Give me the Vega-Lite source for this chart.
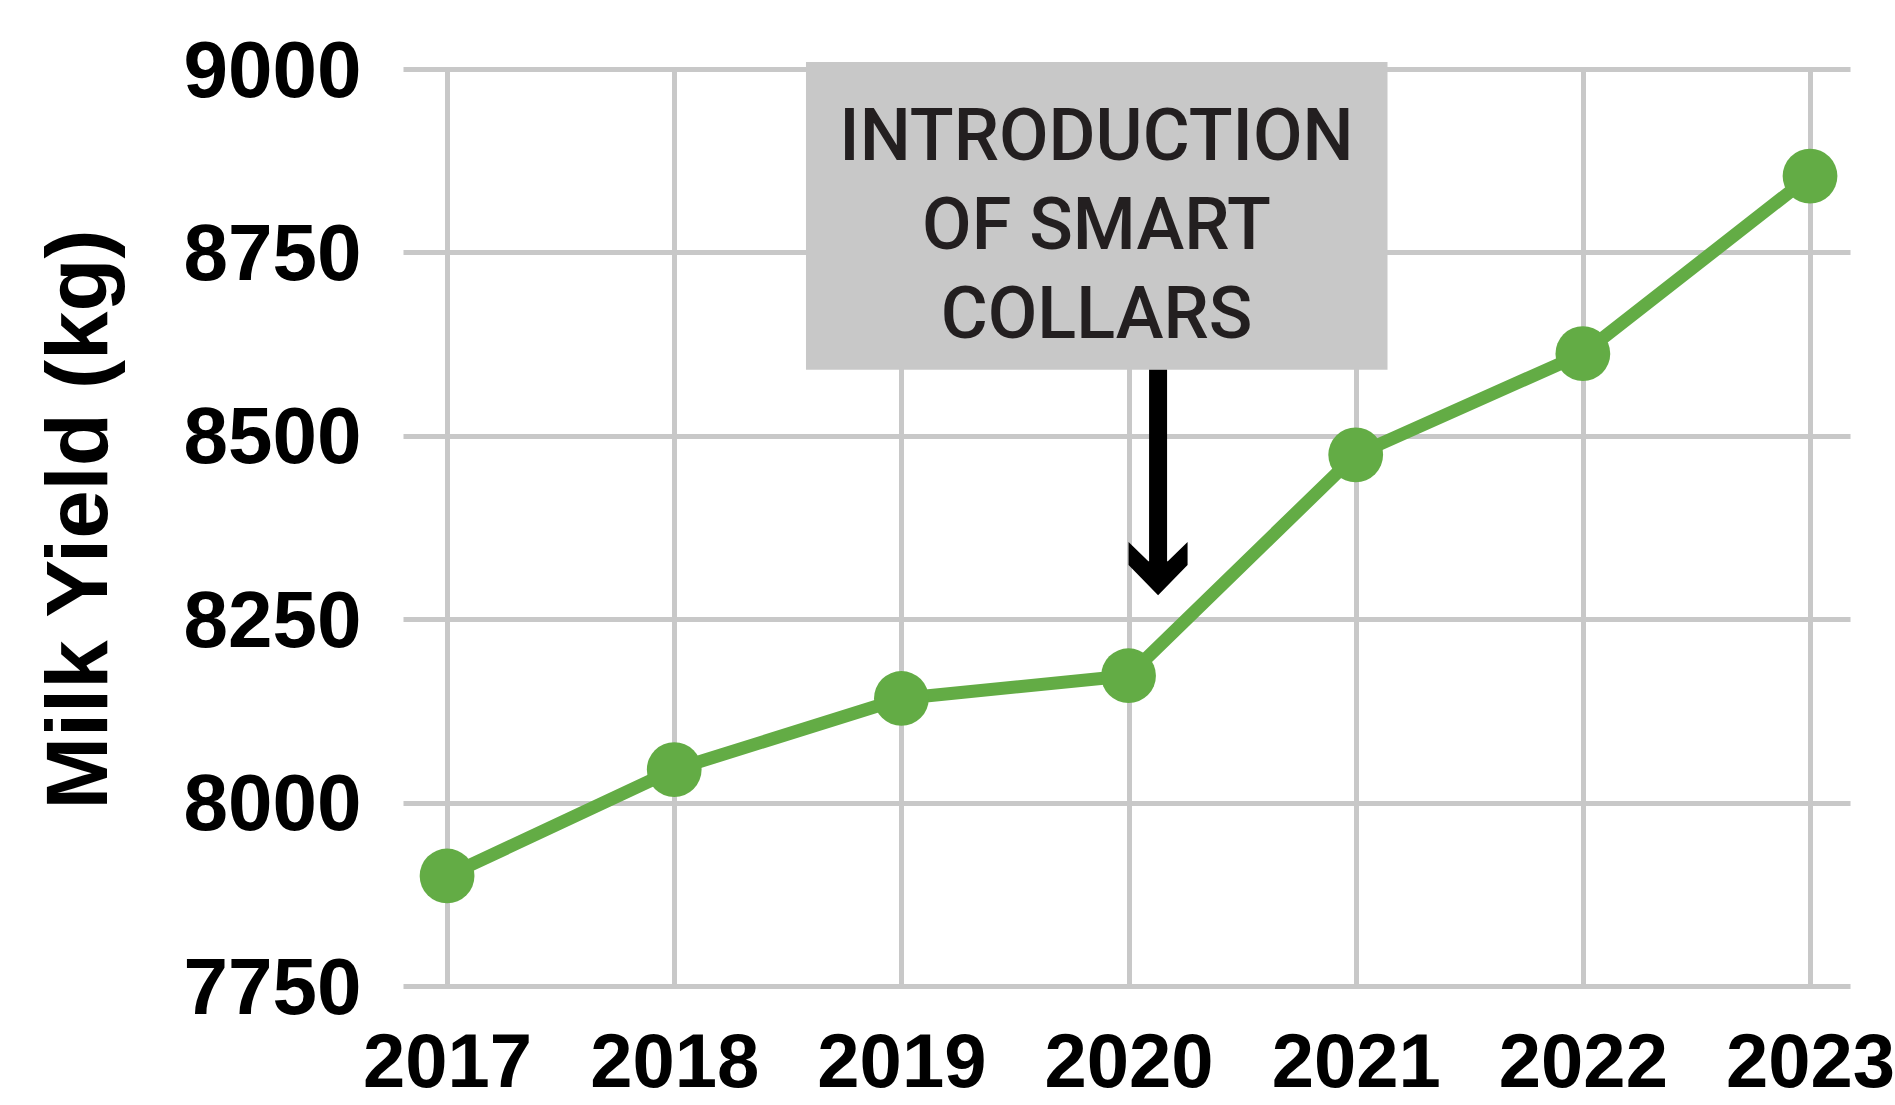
{
  "$schema": "https://vega.github.io/schema/vega-lite/v6.json",
  "width": 1447,
  "height": 917,
  "autosize": {"type": "none"},
  "padding": {"left": 403, "top": 69, "right": 45, "bottom": 119},
  "background": "white",
  "config": {
    "view": {"stroke": null},
    "axis": {"gridColor": "#c8c8c8", "gridWidth": 5, "gridOpacity": 1}
  },
  "data": {
    "values": [
      {"year": 2017, "yield": 7900},
      {"year": 2018, "yield": 8045},
      {"year": 2019, "yield": 8142},
      {"year": 2020, "yield": 8173},
      {"year": 2021, "yield": 8474},
      {"year": 2022, "yield": 8612},
      {"year": 2023, "yield": 8854}
    ]
  },
  "layer": [
    {
      "mark": {"type": "line", "color": "#63ac45", "strokeWidth": 13},
      "encoding": {
        "x": {
          "field": "year", "type": "quantitative",
          "scale": {"domain": [2016.806, 2023.176], "nice": false, "zero": false},
          "axis": {
            "values": [2017, 2018, 2019, 2020, 2021, 2022, 2023],
            "format": "d", "title": null, "grid": true, "ticks": false, "tickSize": 0, "domain": false,
            "labelFont": "Liberation Sans", "labelFontWeight": "bold", "labelFontSize": 76,
            "labelColor": "#000000", "labelPadding": 40, "labelFlush": false, "labelOverlap": false
          }
        },
        "y": {
          "field": "yield", "type": "quantitative",
          "scale": {"domain": [7750, 9000], "nice": false, "zero": false},
          "axis": {
            "values": [7750, 8000, 8250, 8500, 8750, 9000],
            "format": "d", "grid": true, "ticks": false, "tickSize": 0, "domain": false,
            "labelFont": "Liberation Sans", "labelFontWeight": "bold", "labelFontSize": 80,
            "labelColor": "#000000", "labelPadding": 42, "labelOffset": 3, "labelFlush": false, "labelOverlap": false,
            "title": "Milk Yield (kg)",
            "titleFont": "Liberation Sans", "titleFontWeight": "bold", "titleFontSize": 87, "titleColor": "#000000",
            "titleAngle": 270, "titleX": -297, "titleY": 450, "titleBaseline": "alphabetic", "titleAlign": "center"
          }
        }
      }
    },
    {
      "mark": {"type": "point", "filled": true, "color": "#63ac45", "opacity": 1, "size": 3000},
      "encoding": {
        "x": {"field": "year", "type": "quantitative"},
        "y": {"field": "yield", "type": "quantitative"}
      }
    },
    {
      "data": {"values": [{"label": "INTRODUCTION\nOF SMART\nCOLLARS"}]},
      "mark": {"type": "rect", "color": "#c8c8c8", "opacity": 1},
      "encoding": {
        "x": {"datum": 2018.58, "type": "quantitative"},
        "x2": {"datum": 2021.14},
        "y": {"datum": 9009.5, "type": "quantitative"},
        "y2": {"datum": 8590}
      }
    },
    {
      "data": {"values": [{"label": "INTRODUCTION\nOF SMART\nCOLLARS"}]},
      "mark": {"type": "text", "font": "Roboto", "fontWeight": 500, "fontSize": 72, "lineHeight": 89, "align": "center", "baseline": "alphabetic", "color": "#231f20", "lineBreak": "\n"},
      "encoding": {
        "x": {"datum": 2019.859, "type": "quantitative"},
        "y": {"datum": 8876, "type": "quantitative"},
        "text": {"field": "label"}
      }
    },
    {
      "data": {"values": [{"label": "arrow"}]},
      "mark": {"type": "rule", "color": "#000000", "strokeWidth": 18},
      "encoding": {
        "x": {"datum": 2020.13, "type": "quantitative"},
        "y": {"datum": 8590, "type": "quantitative"},
        "y2": {"datum": 8325}
      }
    },
    {
      "data": {"values": [{"label": "arrowhead"}]},
      "mark": {"type": "point", "filled": true, "color": "#000000", "opacity": 1, "size": 3481, "strokeWidth": 0,
        "shape": "M-1,-0.9L-0.33,-0.25L0.33,-0.25L1,-0.9L1,-0.12L0,0.9L-1,-0.12Z"},
      "encoding": {
        "x": {"datum": 2020.13, "type": "quantitative"},
        "y": {"datum": 8319, "type": "quantitative"}
      }
    }
  ]
}
